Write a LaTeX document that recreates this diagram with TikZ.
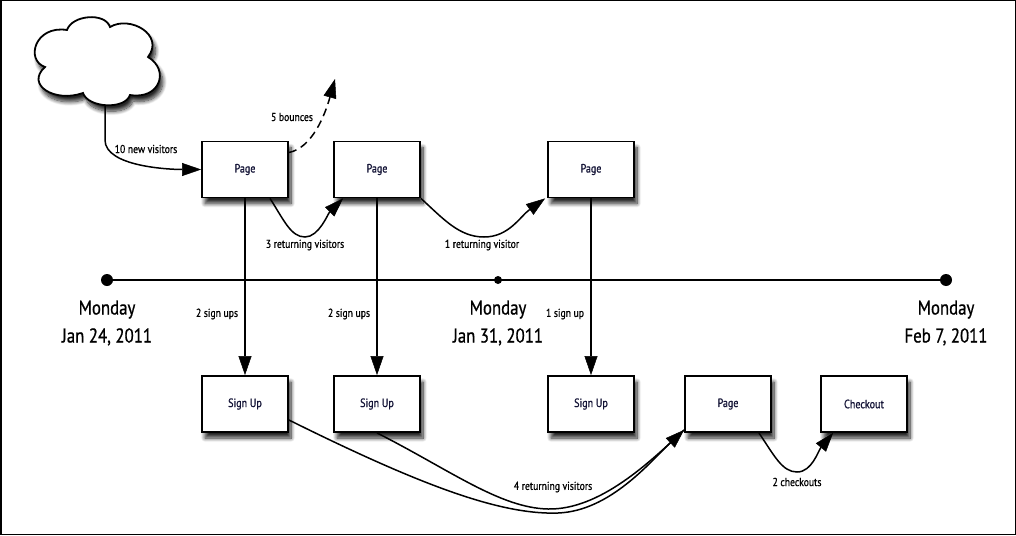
\documentclass[tikz,border=0pt]{standalone}
\usepackage{fontspec}
\setmainfont{PT Sans}[FakeStretch=0.84, FakeBold=0.8]
\usetikzlibrary{arrows.meta,shadows.blur}
\definecolor{navytext}{RGB}{20,20,55}
\begin{document}
\begin{tikzpicture}[x=1pt,y=-1pt,
  boxshadow/.style={blur shadow={shadow xshift=3pt, shadow yshift=-6pt, shadow blur radius=4pt, shadow blur steps=10, shadow opacity=85}},
  box/.style={draw, line width=1.8pt, fill=white, minimum width=86pt, minimum height=56pt, inner sep=0pt, font=\fontsize{12}{14}\selectfont, text=navytext, boxshadow},
  conn/.style={line width=1.5pt, draw=black, -{Triangle[length=19pt,width=13pt,fill=black,line width=0.5pt]}},
  lab/.style={font=\fontsize{11.5}{13}\selectfont, inner sep=1pt},
  date/.style={font=\fontsize{20}{28}\selectfont, align=center},
  bigdot/.style={circle, fill=black, inner sep=0pt, minimum size=12pt},
  smalldot/.style={circle, fill=black, inner sep=0pt, minimum size=8pt}]
\useasboundingbox (0,0) rectangle (1016,535);
\draw[line width=1.5pt] (0.75,0.75) rectangle (1015.25,534.25);

% cloud
\draw[line width=1.8pt, fill=white, boxshadow]
  (45,67) .. controls (25,60) and (35,25) .. (67,30)
  .. controls (72,15) and (105,12) .. (110,27)
  .. controls (130,15) and (165,35) .. (148,57)
  .. controls (170,70) and (160,100) .. (130,95)
  .. controls (125,110) and (88,108) .. (83,93)
  .. controls (55,103) and (25,85) .. (45,67) -- cycle;
\coordinate (cloudbot) at (105,105);

% boxes
\node[box] (p1) at (245,169.5) {Page};
\node[box] (p2) at (377,169.5) {Page};
\node[box] (p3) at (591,169.5) {Page};
\node[box] (s1) at (245,404) {Sign Up};
\node[box] (s2) at (377,404) {Sign Up};
\node[box] (s3) at (591,404) {Sign Up};
\node[box] (p4) at (728,404) {Page};
\node[box] (chk) at (864,404) {Checkout};

% timeline
\node[bigdot] (t1) at (107,280) {};
\node[smalldot] (t2) at (498,280) {};
\node[bigdot] (t3) at (946,280) {};
\draw[line width=1.5pt] (t1) -- (t3);
\node[date] (d1) at (107,323) {Monday\\Jan 24, 2011};
\node[date] (d2) at (498,323) {Monday\\Jan 31, 2011};
\node[date] (d3) at (946,323) {Monday\\Feb 7, 2011};

% connectors
\draw[conn] (cloudbot) -- ++(0,35) .. controls +(0,27) and +(-30,0) .. (p1.west);
\node[lab] (l1) at (146,149) {10 new visitors};

\coordinate (bounce) at (335,79);
\draw[conn, dash pattern=on 8pt off 5pt] ([yshift=17pt]p1.east) .. controls (312,148) and (325,115) .. (bounce);
\node[lab] (l2) at (292,117) {5 bounces};

\draw[conn] ([xshift=25pt]p1.south) .. controls +(14,22) and +(-14,0) .. (305,237) .. controls +(14,0) and +(-15,15) .. ([xshift=10pt]p2.south west);
\node[lab] (l3) at (305,245) {3 returning visitors};

\draw[conn] (p2.south east) .. controls +(22,20) and +(-25,0) .. (484,237) .. controls +(25,0) and +(-25,18) .. ([xshift=-2pt]p3.south west);
\node[lab] (l4) at (482,245) {1 returning visitor};

\draw[conn] (p1) -- (s1);
\draw[conn] (p2) -- (s2);
\draw[conn] (p3) -- (s3);
\node[lab] (l5) at (217,314) {2 sign ups};
\node[lab] (l6) at (349,314) {2 sign ups};
\node[lab] (l7) at (565,314) {1 sign up};

\draw[line width=1.5pt] (s2.south) .. controls (450,470) and (500,508) .. (548,509) .. controls (600,510) and (650,462) .. ([yshift=3pt]p4.south west);
\draw[conn] ([yshift=-16pt]s1.east) .. controls (420,485) and (500,515) .. (558,513) .. controls (610,511) and (650,462) .. ([yshift=3pt]p4.south west);
\node[lab] (l8) at (553,487) {4 returning visitors};

\draw[conn] ([xshift=-13pt]p4.south east) .. controls +(15,22) and +(-15,0) .. (797,472) .. controls +(15,0) and +(-15,18) .. ([xshift=13pt]chk.south west);
\node[lab] (l9) at (797,482) {2 checkouts};
\end{tikzpicture}
\end{document}
